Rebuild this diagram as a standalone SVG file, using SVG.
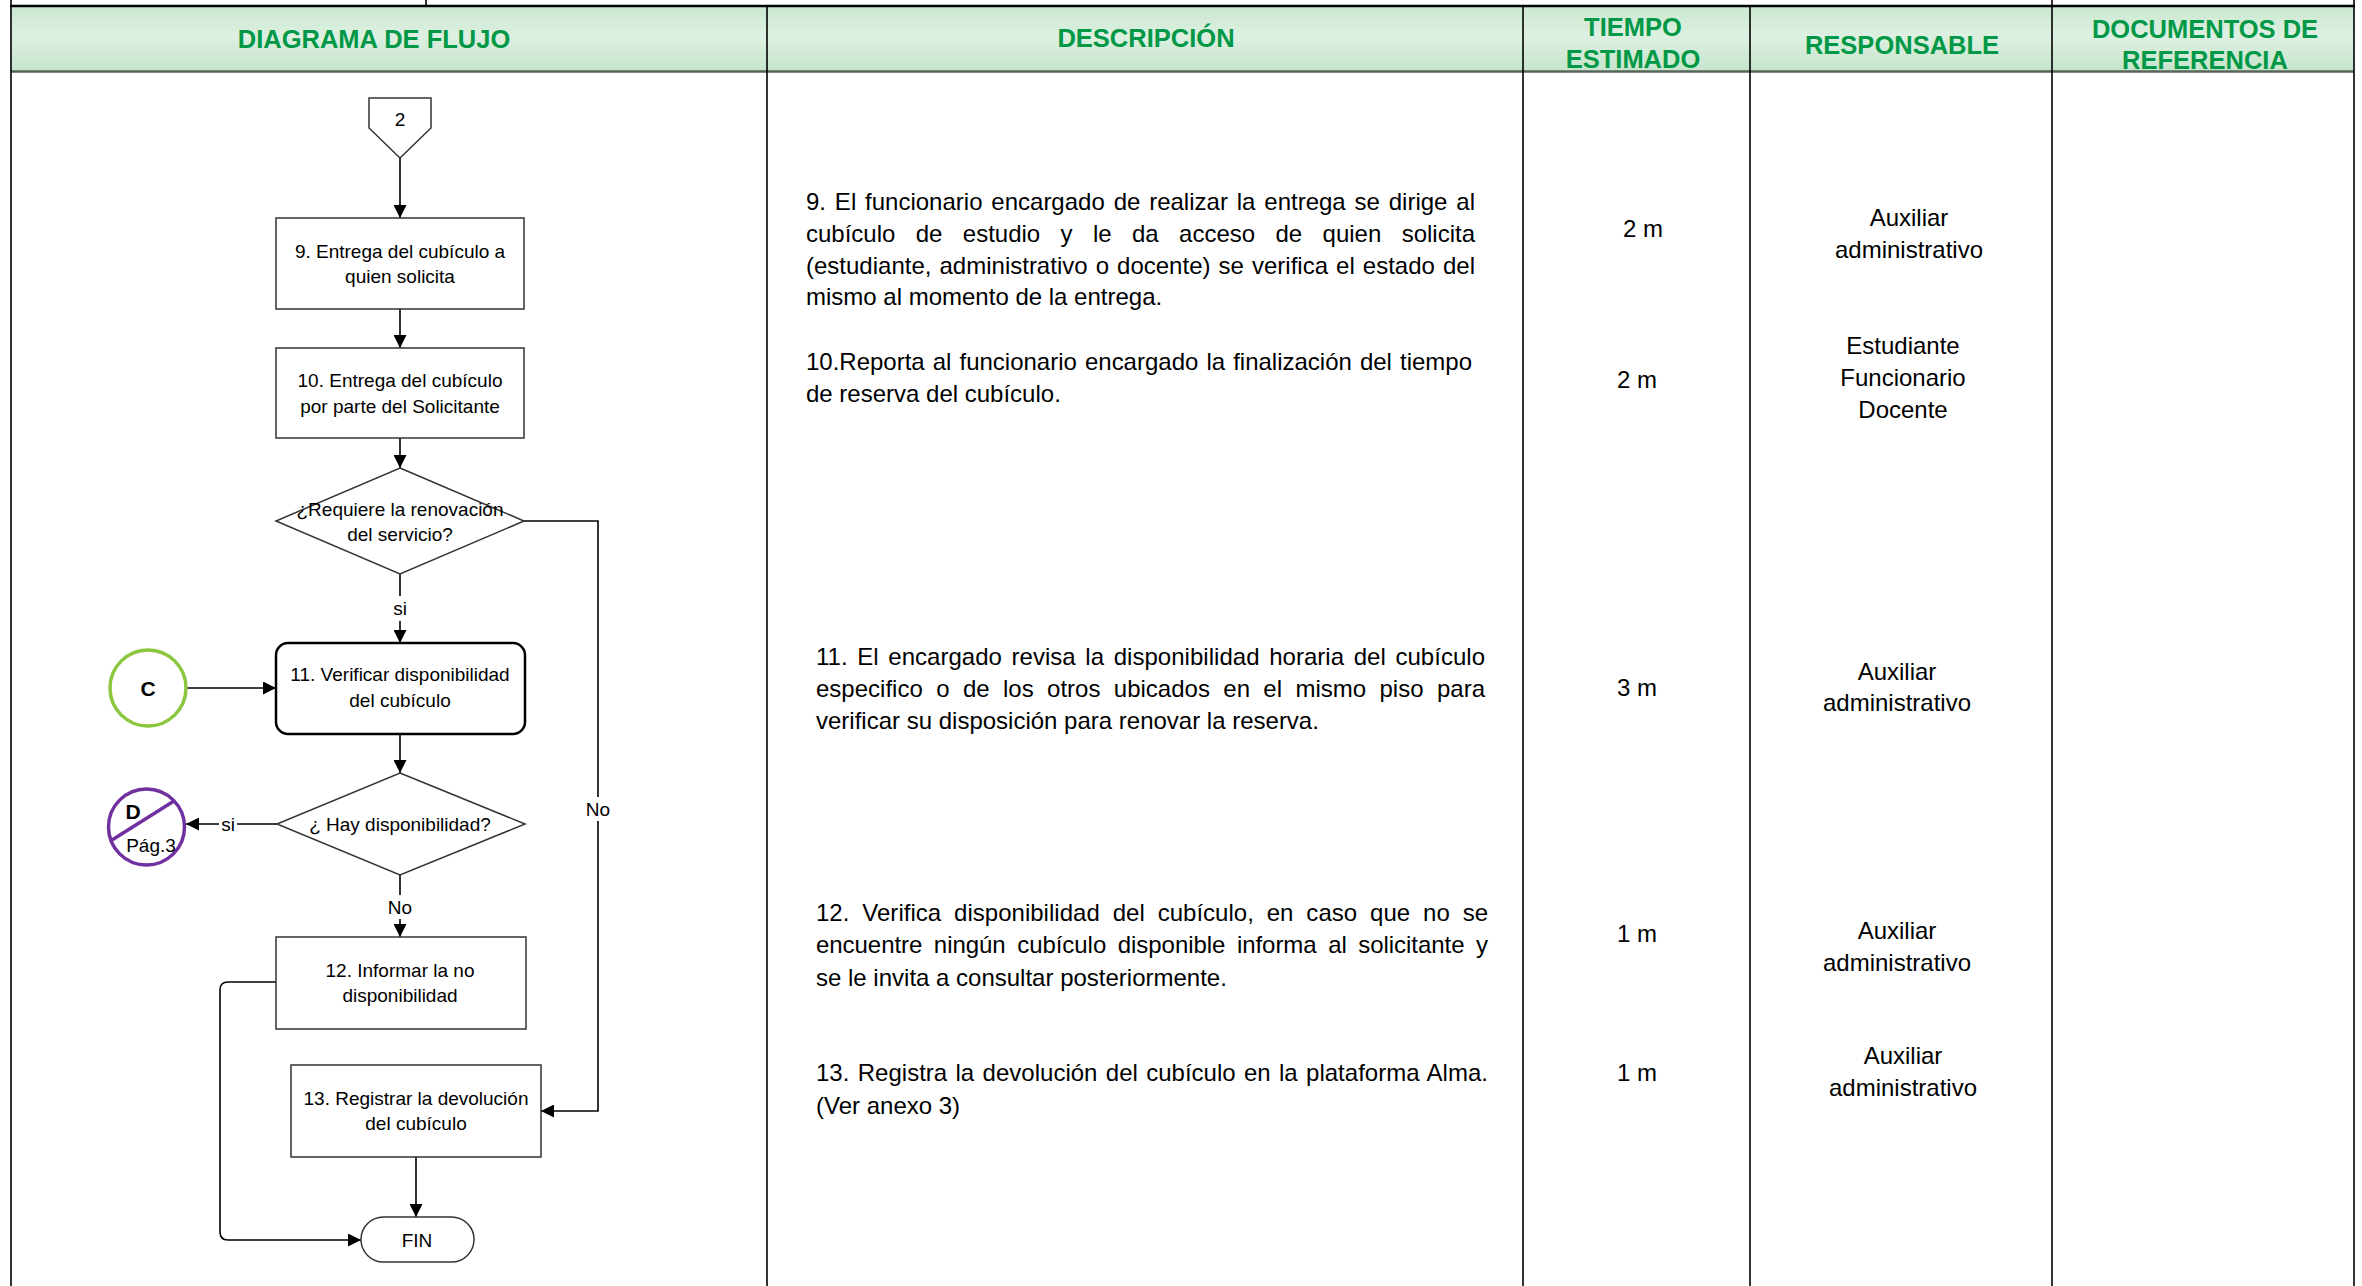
<svg xmlns="http://www.w3.org/2000/svg" width="2362" height="1286" viewBox="0 0 2362 1286">
<defs>
<style>
.hdr{font-family:"Liberation Sans",Arial,sans-serif;font-weight:bold;font-size:25.5px;fill:#009846;text-anchor:middle}
.desc{font-family:"Liberation Sans",Arial,sans-serif;font-size:24px;fill:#000}
.cell{font-family:"Liberation Sans",Arial,sans-serif;font-size:24px;fill:#000;text-anchor:middle}
.fc{font-family:"Liberation Sans",Arial,sans-serif;font-size:19px;fill:#000;text-anchor:middle}
.fcb{font-family:"Liberation Sans",Arial,sans-serif;font-size:21px;font-weight:bold;fill:#000;text-anchor:middle}
.box{fill:#fff;stroke:#333;stroke-width:1.5}
.conn{fill:none;stroke:#000;stroke-width:1.6}
.tbl{fill:none;stroke:#000;stroke-width:1.6}
.lblbg{fill:#fff}
</style>
<linearGradient id="hg" x1="0" y1="0" x2="0" y2="1">
<stop offset="0" stop-color="#CBE8D1"/>
<stop offset="0.45" stop-color="#DDF0E1"/>
<stop offset="1" stop-color="#C6E5CC"/>
</linearGradient>
<marker id="arr" markerWidth="13" markerHeight="13" refX="13" refY="6.5" orient="auto" markerUnits="userSpaceOnUse">
<path d="M0,0 L13,6.5 L0,13 z" fill="#000"/>
</marker>
</defs>
<rect x="0" y="0" width="2362" height="1286" fill="#fff"/>

<g id="table">
<rect x="11" y="7" width="2343" height="64" fill="url(#hg)"/>
<line x1="10" y1="6" x2="2355" y2="6" stroke="#000" stroke-width="2.5"/>
<line x1="11" y1="71.5" x2="2354" y2="71.5" stroke="#56655A" stroke-width="2.5"/>
<line class="tbl" x1="11" y1="0" x2="11" y2="1286"/>
<line class="tbl" x1="2354" y1="0" x2="2354" y2="1286"/>
<line class="tbl" x1="426" y1="0" x2="426" y2="6"/>
<line class="tbl" x1="2052" y1="0" x2="2052" y2="6"/>
<line class="tbl" x1="767" y1="7" x2="767" y2="1286"/>
<line class="tbl" x1="1523" y1="7" x2="1523" y2="1286"/>
<line class="tbl" x1="1750" y1="7" x2="1750" y2="1286"/>
<line class="tbl" x1="2052" y1="7" x2="2052" y2="1286"/>
<text class="hdr" x="374" y="48">DIAGRAMA DE FLUJO</text>
<text class="hdr" x="1146" y="47">DESCRIPCIÓN</text>
<text class="hdr" x="1633" y="36">TIEMPO</text>
<text class="hdr" x="1633" y="68">ESTIMADO</text>
<text class="hdr" x="1902" y="54">RESPONSABLE</text>
<text class="hdr" x="2205" y="38">DOCUMENTOS DE</text>
<text class="hdr" x="2205" y="69">REFERENCIA</text>
</g>

<g id="descripcion">
<text class="desc" x="806" y="210" word-spacing="2.2" textLength="669" lengthAdjust="spacing">9. El funcionario encargado de realizar la entrega se dirige al</text>
<text class="desc" x="806" y="242" word-spacing="13.7" textLength="669" lengthAdjust="spacing">cubículo de estudio y le da acceso de quien solicita</text>
<text class="desc" x="806" y="274" word-spacing="1.4" textLength="669" lengthAdjust="spacing">(estudiante, administrativo o docente) se verifica el estado del</text>
<text class="desc" x="806" y="305">mismo al momento de la entrega.</text>
<text class="desc" x="806" y="370" word-spacing="1.4" textLength="666" lengthAdjust="spacing">10.Reporta al funcionario encargado la finalización del tiempo</text>
<text class="desc" x="806" y="402">de reserva del cubículo.</text>
<text class="desc" x="816" y="665" word-spacing="2.9" textLength="669" lengthAdjust="spacing">11. El encargado revisa la disponibilidad horaria del cubículo</text>
<text class="desc" x="816" y="697" word-spacing="6.7" textLength="669" lengthAdjust="spacing">especifico o de los otros ubicados en el mismo piso para</text>
<text class="desc" x="816" y="729">verificar su disposición para renovar la reserva.</text>
<text class="desc" x="816" y="921" word-spacing="6.2" textLength="672" lengthAdjust="spacing">12. Verifica disponibilidad del cubículo, en caso que no se</text>
<text class="desc" x="816" y="953" word-spacing="4.9" textLength="672" lengthAdjust="spacing">encuentre ningún cubículo disponible informa al solicitante y</text>
<text class="desc" x="816" y="986">se le invita a consultar posteriormente.</text>
<text class="desc" x="816" y="1081" word-spacing="1.6" textLength="672" lengthAdjust="spacing">13. Registra la devolución del cubículo en la plataforma Alma.</text>
<text class="desc" x="816" y="1114">(Ver anexo 3)</text>
</g>

<g id="tiempo">
<text class="cell" x="1643" y="237">2 m</text>
<text class="cell" x="1637" y="388">2 m</text>
<text class="cell" x="1637" y="696">3 m</text>
<text class="cell" x="1637" y="942">1 m</text>
<text class="cell" x="1637" y="1081">1 m</text>
</g>

<g id="responsable">
<text class="cell" x="1909" y="226">Auxiliar</text>
<text class="cell" x="1909" y="258">administrativo</text>
<text class="cell" x="1903" y="354">Estudiante</text>
<text class="cell" x="1903" y="386">Funcionario</text>
<text class="cell" x="1903" y="418">Docente</text>
<text class="cell" x="1897" y="680">Auxiliar</text>
<text class="cell" x="1897" y="711">administrativo</text>
<text class="cell" x="1897" y="939">Auxiliar</text>
<text class="cell" x="1897" y="971">administrativo</text>
<text class="cell" x="1903" y="1064">Auxiliar</text>
<text class="cell" x="1903" y="1096">administrativo</text>
</g>

<g id="connectors">
<path class="conn" d="M400,158 L400,218" marker-end="url(#arr)"/>
<path class="conn" d="M400,309 L400,348" marker-end="url(#arr)"/>
<path class="conn" d="M400,438 L400,468" marker-end="url(#arr)"/>
<path class="conn" d="M400,574 L400,643" marker-end="url(#arr)"/>
<path class="conn" d="M187,688 L276,688" marker-end="url(#arr)"/>
<path class="conn" d="M400,734 L400,773" marker-end="url(#arr)"/>
<path class="conn" d="M277,824 L186,824" marker-end="url(#arr)"/>
<path class="conn" d="M400,875 L400,937" marker-end="url(#arr)"/>
<path class="conn" d="M524,521 L598,521 L598,1111 L541,1111" marker-end="url(#arr)"/>
<path class="conn" d="M276,982 L228,982 Q220,982 220,990 L220,1232 Q220,1240 228,1240 L361,1240" marker-end="url(#arr)"/>
<path class="conn" d="M416,1157 L416,1217" marker-end="url(#arr)"/>
<rect class="lblbg" x="390" y="596" width="20" height="25"/>
<text class="fc" x="400" y="615">si</text>
<rect class="lblbg" x="219" y="814" width="18" height="22"/>
<text class="fc" x="228" y="831">si</text>
<rect class="lblbg" x="386" y="895" width="28" height="24"/>
<text class="fc" x="400" y="914">No</text>
<rect class="lblbg" x="584" y="797" width="28" height="24"/>
<text class="fc" x="598" y="816">No</text>
</g>

<g id="n_conector2">
<polygon class="box" points="369,98 431,98 431,128 400,158 369,128"/>
<text class="fc" x="400" y="126">2</text>
</g>

<g id="n_paso9">
<rect class="box" x="276" y="218" width="248" height="91"/>
<text class="fc" x="400" y="258">9. Entrega del cubículo a</text>
<text class="fc" x="400" y="283">quien solicita</text>
</g>

<g id="n_paso10">
<rect class="box" x="276" y="348" width="248" height="90"/>
<text class="fc" x="400" y="387">10. Entrega del cubículo</text>
<text class="fc" x="400" y="413">por parte del Solicitante</text>
</g>

<g id="n_decision1">
<polygon class="box" points="400,468 524,521 400,574 276,521"/>
<text class="fc" x="400" y="516">¿Requiere la renovación</text>
<text class="fc" x="400" y="541">del servicio?</text>
</g>

<g id="n_paso11">
<rect x="276" y="643" width="249" height="91" rx="12" ry="12" fill="#fff" stroke="#000" stroke-width="2.5"/>
<text class="fc" x="400" y="681">11. Verificar disponibilidad</text>
<text class="fc" x="400" y="707">del cubículo</text>
</g>

<g id="n_conectorC">
<circle cx="148" cy="688" r="38" fill="#fff" stroke="#8CC63F" stroke-width="3.5"/>
<text class="fcb" x="148" y="696">C</text>
</g>

<g id="n_decision2">
<polygon class="box" points="400,773 525,824 400,875 277,824"/>
<text class="fc" x="400" y="831">¿ Hay disponibilidad?</text>
</g>

<g id="n_conectorD">
<circle cx="146.5" cy="827" r="38" fill="#fff" stroke="#7030A0" stroke-width="3.5"/>
<line x1="174" y1="801" x2="112" y2="840" stroke="#7030A0" stroke-width="3.5"/>
<text class="fcb" x="133" y="819">D</text>
<text class="fc" x="151" y="852">Pág.3</text>
</g>

<g id="n_paso12">
<rect class="box" x="276" y="937" width="250" height="92"/>
<text class="fc" x="400" y="977">12. Informar la no</text>
<text class="fc" x="400" y="1002">disponibilidad</text>
</g>

<g id="n_paso13">
<rect class="box" x="291" y="1065" width="250" height="92"/>
<text class="fc" x="416" y="1105">13. Registrar la devolución</text>
<text class="fc" x="416" y="1130">del cubículo</text>
</g>

<g id="n_fin">
<rect class="box" x="361" y="1217" width="113" height="45" rx="22.5" ry="22.5"/>
<text class="fc" x="417" y="1247">FIN</text>
</g>
</svg>
